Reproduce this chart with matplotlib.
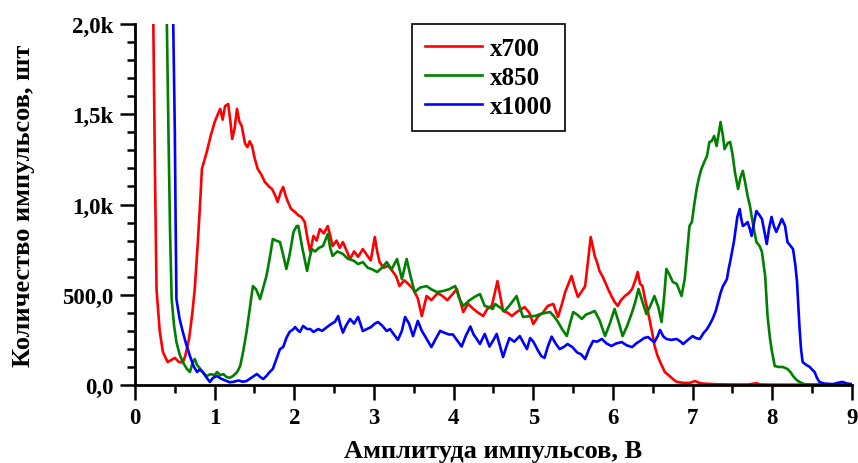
import matplotlib
matplotlib.use("Agg")
import matplotlib.pyplot as plt

plt.rcParams['font.family'] = ['Liberation Serif', 'DejaVu Serif']
plt.rcParams['font.weight'] = 'bold'

# x700 (red)
x700_v = [0.20, 0.23, 0.25, 0.27, 0.31, 0.35, 0.41, 0.46, 0.50, 0.55, 0.60, 0.63, 0.68, 0.72, 0.75,
          0.79, 0.82, 0.84, 0.90, 0.95, 1.00, 1.04, 1.07, 1.10, 1.13, 1.17, 1.20, 1.22, 1.25, 1.28,
          1.31, 1.34, 1.38, 1.41, 1.44, 1.47, 1.50, 1.54, 1.58, 1.63, 1.68, 1.72, 1.76, 1.79, 1.83,
          1.86, 1.89, 1.92, 1.96, 2.01, 2.05, 2.09, 2.13, 2.17, 2.20, 2.24, 2.28, 2.32, 2.37, 2.42,
          2.45, 2.48, 2.53, 2.57, 2.61, 2.66, 2.70, 2.75, 2.80, 2.86, 2.91, 2.96, 3.01, 3.04, 3.07,
          3.12, 3.18, 3.24, 3.28, 3.32, 3.38, 3.43, 3.49, 3.55, 3.60, 3.66, 3.72, 3.80, 3.86, 3.92,
          3.98, 4.04, 4.08, 4.12, 4.18, 4.25, 4.31, 4.37, 4.42, 4.48, 4.55, 4.62, 4.68, 4.73, 4.79,
          4.85, 4.89, 4.95, 5.00, 5.06, 5.12, 5.18, 5.25, 5.31, 5.36, 5.40, 5.44, 5.48, 5.52, 5.56,
          5.61, 5.65, 5.69, 5.72, 5.75, 5.77, 5.80, 5.83, 5.87, 5.90, 5.94, 5.98, 6.02, 6.06, 6.10,
          6.15, 6.20, 6.24, 6.28, 6.31, 6.34, 6.37, 6.40, 6.44, 6.49, 6.52, 6.56, 6.60, 6.65, 6.71,
          6.76, 6.80, 6.88, 6.96, 7.03, 7.08, 7.13, 7.30, 7.50, 7.70, 7.80, 7.85, 8.00, 8.50, 9.00]
x700_n = [2600, 2000, 1200, 530, 300, 183, 127, 140, 150, 128, 125, 160, 260, 400, 532,
          800, 1030, 1197, 1290, 1380, 1457, 1500, 1530, 1470, 1545, 1557, 1450, 1363, 1420, 1530,
          1460, 1435, 1340, 1318, 1350, 1324, 1260, 1197, 1170, 1125, 1100, 1086, 1050, 1014, 1070,
          1097, 1050, 1014, 975, 958, 940, 930, 903, 800, 737, 826, 800, 864, 840, 881,
          830, 770, 800, 760, 792, 740, 698, 740, 710, 753, 720, 690, 820, 740, 681,
          650, 660, 626, 600, 548, 580, 560, 532, 480, 382, 493, 470, 510, 493, 470,
          500, 532, 470, 404, 450, 420, 400, 382, 420, 440, 576, 410, 400, 382, 404,
          420, 432, 400, 338, 380, 400, 438, 449, 377, 450, 515, 560, 604, 540, 488,
          520, 548, 700, 820, 760, 715, 680, 632, 600, 571, 530, 493, 460, 438, 470,
          493, 510, 532, 580, 626, 560, 548, 480, 404, 294, 220, 160, 120, 72, 50,
          30, 17, 12, 11, 22, 12, 8, 4, 3, 3, 10, 3, 2, 2, 2]

# x850 (green)
x850_v = [0.38, 0.40, 0.42, 0.44, 0.46, 0.49, 0.52, 0.56, 0.60, 0.65, 0.69, 0.72, 0.75, 0.78, 0.82,
          0.86, 0.90, 0.95, 1.00, 1.03, 1.07, 1.11, 1.15, 1.19, 1.23, 1.28, 1.32, 1.36, 1.40, 1.44,
          1.48, 1.52, 1.57, 1.61, 1.65, 1.69, 1.73, 1.77, 1.82, 1.86, 1.90, 1.94, 1.99, 2.03, 2.05,
          2.10, 2.16, 2.19, 2.22, 2.26, 2.31, 2.36, 2.42, 2.45, 2.48, 2.54, 2.61, 2.67, 2.74, 2.80,
          2.86, 2.92, 2.98, 3.04, 3.10, 3.16, 3.22, 3.29, 3.35, 3.41, 3.46, 3.51, 3.58, 3.66, 3.72,
          3.79, 3.86, 3.94, 4.02, 4.07, 4.12, 4.20, 4.27, 4.33, 4.39, 4.45, 4.49, 4.52, 4.58, 4.64,
          4.70, 4.75, 4.79, 4.83, 4.87, 4.93, 5.02, 5.10, 5.16, 5.21, 5.26, 5.31, 5.36, 5.42, 5.46,
          5.50, 5.55, 5.61, 5.66, 5.72, 5.77, 5.83, 5.90, 5.96, 6.02, 6.07, 6.12, 6.18, 6.24, 6.28,
          6.32, 6.37, 6.42, 6.47, 6.52, 6.57, 6.61, 6.64, 6.67, 6.71, 6.75, 6.80, 6.86, 6.90, 6.92,
          6.96, 6.99, 7.02, 7.05, 7.08, 7.11, 7.15, 7.18, 7.21, 7.24, 7.27, 7.30, 7.33, 7.35, 7.38,
          7.40, 7.44, 7.47, 7.50, 7.53, 7.57, 7.60, 7.63, 7.66, 7.69, 7.72, 7.74, 7.77, 7.80, 7.84,
          7.87, 7.91, 7.94, 7.97, 7.99, 8.03, 8.08, 8.13, 8.19, 8.23, 8.26, 8.30, 8.34, 8.40, 8.50, 9.00]
x850_n = [2600, 2000, 1400, 848, 476, 330, 238, 170, 127, 90, 72, 120, 144, 110, 89,
          65, 50, 60, 55, 72, 55, 60, 44, 40, 50, 70, 105, 190, 294, 420,
          548, 530, 476, 540, 604, 700, 809, 800, 792, 720, 643, 720, 848, 881, 881,
          760, 632, 700, 753, 740, 760, 770, 837, 760, 715, 740, 726, 700, 690, 670,
          681, 650, 640, 626, 650, 681, 640, 698, 587, 698, 600, 515, 540, 548, 530,
          515, 520, 530, 548, 480, 438, 470, 490, 504, 438, 430, 421, 449, 430, 410,
          440, 470, 493, 430, 377, 380, 382, 395, 400, 404, 380, 349, 310, 271, 340,
          404, 390, 366, 390, 400, 410, 360, 271, 340, 421, 350, 271, 330, 404, 460,
          532, 460, 393, 440, 493, 430, 349, 480, 643, 610, 571, 560, 493, 587, 681,
          881, 903, 1000, 1086, 1150, 1197, 1240, 1269, 1346, 1352, 1380, 1324, 1400, 1457, 1380,
          1307, 1340, 1346, 1280, 1180, 1086, 1150, 1186, 1120, 1047, 990, 936, 860, 792, 770,
          737, 604, 382, 260, 199, 105, 100, 100, 89, 70, 50, 30, 17, 5, 2, 2]

# x1000 (blue)
x1000_v = [0.46, 0.48, 0.50, 0.51, 0.52, 0.56, 0.60, 0.64, 0.69, 0.74, 0.78, 0.81, 0.85, 0.90, 0.94,
           0.98, 1.03, 1.08, 1.15, 1.19, 1.23, 1.30, 1.35, 1.40, 1.46, 1.53, 1.57, 1.61, 1.65, 1.69,
           1.73, 1.78, 1.82, 1.86, 1.90, 1.94, 1.99, 2.01, 2.05, 2.07, 2.11, 2.16, 2.20, 2.24, 2.30,
           2.35, 2.41, 2.47, 2.51, 2.55, 2.58, 2.61, 2.65, 2.70, 2.75, 2.80, 2.86, 2.91, 2.96, 3.01,
           3.05, 3.10, 3.16, 3.20, 3.25, 3.30, 3.35, 3.39, 3.44, 3.49, 3.55, 3.60, 3.64, 3.68, 3.72,
           3.78, 3.83, 3.88, 3.94, 3.99, 4.04, 4.10, 4.15, 4.21, 4.25, 4.29, 4.33, 4.39, 4.45, 4.50,
           4.54, 4.58, 4.62, 4.66, 4.70, 4.76, 4.83, 4.88, 4.92, 4.96, 5.00, 5.06, 5.10, 5.14, 5.18,
           5.23, 5.28, 5.33, 5.38, 5.43, 5.49, 5.55, 5.60, 5.65, 5.70, 5.75, 5.80, 5.86, 5.92, 5.98,
           6.04, 6.11, 6.17, 6.24, 6.29, 6.34, 6.39, 6.44, 6.48, 6.52, 6.56, 6.59, 6.63, 6.67, 6.73,
           6.80, 6.85, 6.88, 6.94, 7.00, 7.04, 7.09, 7.14, 7.18, 7.22, 7.25, 7.29, 7.32, 7.35, 7.38,
           7.41, 7.43, 7.45, 7.47, 7.50, 7.52, 7.54, 7.56, 7.59, 7.61, 7.63, 7.66, 7.69, 7.72, 7.74,
           7.77, 7.80, 7.84, 7.87, 7.90, 7.93, 7.96, 7.99, 8.02, 8.05, 8.09, 8.12, 8.16, 8.19, 8.23,
           8.26, 8.29, 8.31, 8.34, 8.36, 8.38, 8.43, 8.47, 8.50, 8.53, 8.56, 8.59, 8.65, 8.76, 8.82,
           8.88, 8.94, 9.00]
x1000_n = [2600, 2000, 1400, 900, 476, 366, 294, 230, 160, 100, 72, 85, 72, 40, 17,
           40, 50, 35, 22, 15, 17, 25, 18, 22, 40, 61, 45, 33, 50, 72,
           89, 150, 199, 210, 260, 294, 310, 321, 300, 294, 327, 310, 310, 294, 310,
           300, 321, 340, 350, 382, 330, 290, 330, 366, 340, 377, 299, 310, 320, 340,
           349, 330, 299, 310, 280, 250, 300, 377, 340, 271, 355, 300, 271, 240, 210,
           260, 300, 290, 280, 280, 250, 213, 270, 324, 280, 255, 227, 283, 213, 250,
           283, 220, 155, 210, 260, 240, 271, 230, 199, 260, 240, 190, 160, 150, 210,
           268, 230, 199, 210, 227, 210, 180, 170, 144, 200, 244, 240, 255, 230, 216,
           230, 238, 220, 210, 230, 244, 260, 266, 250, 238, 270, 305, 270, 255, 250,
           255, 240, 227, 250, 271, 260, 255, 290, 310, 340, 366, 410, 460, 510, 548,
           570, 587, 640, 681, 753, 800, 864, 930, 975, 920, 881, 890, 903, 860, 826,
           900, 964, 940, 920, 850, 781, 870, 931, 880, 848, 890, 920, 881, 792, 770,
           753, 660, 571, 327, 200, 127, 110, 100, 85, 72, 40, 17, 8, 5, 12,
           17, 8, 5]

yticks = [0, 500, 1000, 1500, 2000]
ytick_labels = ['0,0', '500,0', '1,0k', '1,5k', '2,0k']

fig = plt.figure(figsize=(8.58, 4.64), dpi=100)
ax = fig.add_axes([135 / 858, 1 - 386 / 464, 717 / 858, 361 / 464])

ax.plot(x700_v, x700_n, color='#ff0000', lw=1.9, label='x700')
ax.plot(x850_v, x850_n, color='#008000', lw=1.9, label='x850')
ax.plot(x1000_v, x1000_n, color='#0000ff', lw=1.9, label='x1000')

ax.set_xlim(0, 9)
ax.set_ylim(0, 2000)
ax.set_xticks(range(10))
ax.set_xticks([i + 0.5 for i in range(9)], minor=True)
ax.set_yticks(yticks)
ax.set_yticklabels(ytick_labels)
ax.set_yticks(range(100, 2000, 100), minor=True)

for s in ['top', 'right']:
    ax.spines[s].set_visible(False)
for s in ['left', 'bottom']:
    ax.spines[s].set_linewidth(2)
ax.tick_params(which='major', direction='out', length=10.5, width=1.8, labelsize=16.5, pad=5)
ax.tick_params(which='minor', direction='out', length=5.5, width=1.8)

ax.set_xlabel('Амплитуда импульсов, В', fontsize=19, fontweight='bold')
ax.set_ylabel('Количество импульсов, шт', fontsize=19, fontweight='bold')
ax.xaxis.set_label_coords(0.5, -0.15)
ax.yaxis.set_label_coords(-0.14, 0.5)

# legend box pinned at the top, a bit left of centre
leg = ax.legend(loc='upper left', bbox_to_anchor=(412 / 858, 1 - 25 / 464),
                bbox_transform=fig.transFigure, borderaxespad=0, fontsize=18,
                fancybox=False, framealpha=1, edgecolor='black',
                handlelength=2.3, handletextpad=0.3, labelspacing=0.25,
                borderpad=0.5)
leg.get_frame().set_linewidth(1.2)

fig.savefig('out.png', dpi=100)
